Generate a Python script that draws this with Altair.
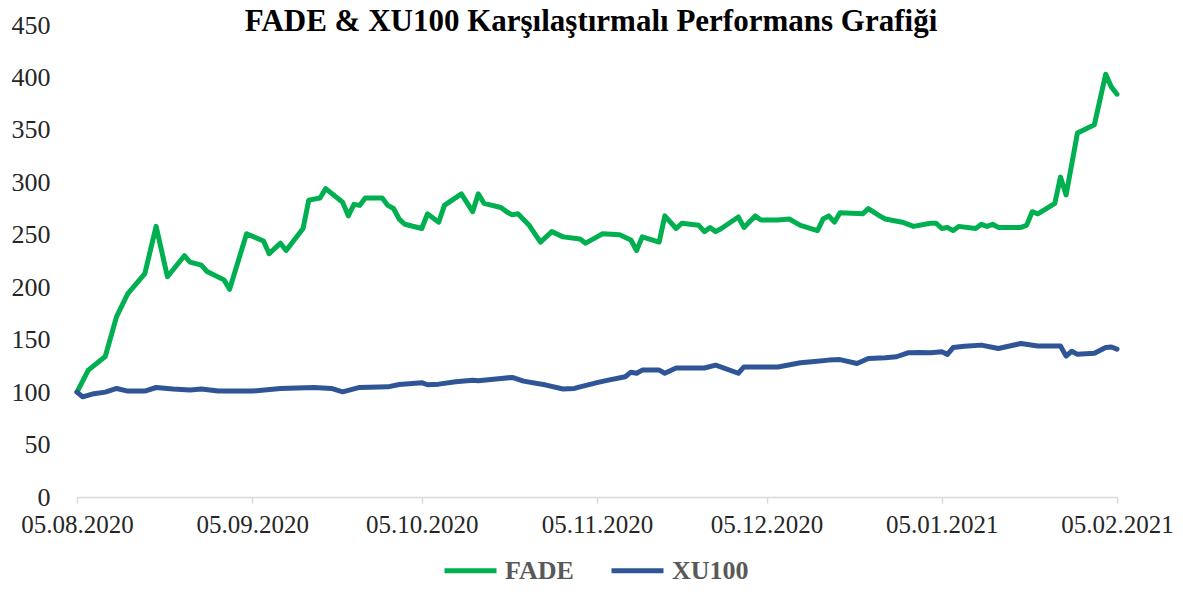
import altair as alt
import pandas as pd

fade_dates = [
    "2020-08-05", "2020-08-07", "2020-08-10", "2020-08-12", "2020-08-14", "2020-08-17",
    "2020-08-19", "2020-08-21", "2020-08-24", "2020-08-25", "2020-08-27", "2020-08-28",
    "2020-08-31", "2020-09-01", "2020-09-04", "2020-09-07", "2020-09-08", "2020-09-10",
    "2020-09-11", "2020-09-14", "2020-09-15", "2020-09-17", "2020-09-18", "2020-09-21",
    "2020-09-22", "2020-09-23", "2020-09-24", "2020-09-25", "2020-09-28", "2020-09-29",
    "2020-09-30", "2020-10-01", "2020-10-02", "2020-10-05", "2020-10-06", "2020-10-08",
    "2020-10-09", "2020-10-12", "2020-10-14", "2020-10-15", "2020-10-16", "2020-10-19",
    "2020-10-20", "2020-10-21", "2020-10-22", "2020-10-24", "2020-10-26", "2020-10-28",
    "2020-10-30", "2020-11-02", "2020-11-03", "2020-11-05", "2020-11-06", "2020-11-09",
    "2020-11-11", "2020-11-12", "2020-11-13", "2020-11-16", "2020-11-17", "2020-11-19",
    "2020-11-20", "2020-11-23", "2020-11-24", "2020-11-25", "2020-11-26", "2020-11-27",
    "2020-11-30", "2020-12-01", "2020-12-03", "2020-12-04", "2020-12-06", "2020-12-07",
    "2020-12-09", "2020-12-11", "2020-12-14", "2020-12-15", "2020-12-16", "2020-12-17",
    "2020-12-18", "2020-12-22", "2020-12-23", "2020-12-25", "2020-12-26", "2020-12-29",
    "2020-12-31", "2021-01-03", "2021-01-04", "2021-01-05", "2021-01-06", "2021-01-07",
    "2021-01-08", "2021-01-11", "2021-01-12", "2021-01-13", "2021-01-14", "2021-01-15",
    "2021-01-19", "2021-01-20", "2021-01-21", "2021-01-22", "2021-01-25", "2021-01-26",
    "2021-01-27", "2021-01-29", "2021-02-01", "2021-02-03", "2021-02-04", "2021-02-05",
]
fade_values = [
    100, 121, 134, 172, 194, 213,
    258, 210, 230, 224, 221, 215,
    207, 198, 251, 244, 232, 242,
    235, 256, 283, 285, 294, 281,
    268, 279, 278, 285, 285, 278,
    275, 265, 260, 256, 270, 262,
    278, 289, 272, 289, 280, 276,
    272, 269, 270, 259, 243, 253,
    248, 246, 242, 248, 251, 250,
    245, 235, 248, 243, 268, 256,
    261, 259, 253, 257, 253, 256,
    267, 257, 268, 264, 264, 264,
    265, 259, 254, 265, 268, 262,
    271, 270, 275, 268, 265, 262,
    258, 261, 261, 256, 257, 254,
    258, 256, 260, 258, 260, 257,
    257, 259, 272, 270, 280, 305,
    288, 347, 355, 403, 391, 384,
]

xu_dates = [
    "2020-08-05", "2020-08-06", "2020-08-08", "2020-08-10", "2020-08-12", "2020-08-14",
    "2020-08-17", "2020-08-19", "2020-08-22", "2020-08-25", "2020-08-27", "2020-08-30",
    "2020-09-05", "2020-09-10", "2020-09-16", "2020-09-19", "2020-09-21", "2020-09-24",
    "2020-09-29", "2020-10-01", "2020-10-05", "2020-10-06", "2020-10-08", "2020-10-11",
    "2020-10-14", "2020-10-15", "2020-10-19", "2020-10-21", "2020-10-23", "2020-10-27",
    "2020-10-30", "2020-11-01", "2020-11-02", "2020-11-05", "2020-11-07", "2020-11-10",
    "2020-11-11", "2020-11-12", "2020-11-13", "2020-11-16", "2020-11-17", "2020-11-19",
    "2020-11-24", "2020-11-26", "2020-11-30", "2020-12-01", "2020-12-06", "2020-12-07",
    "2020-12-11", "2020-12-13", "2020-12-16", "2020-12-18", "2020-12-21", "2020-12-23",
    "2020-12-26", "2020-12-28", "2020-12-30", "2021-01-01", "2021-01-03", "2021-01-05",
    "2021-01-06", "2021-01-07", "2021-01-09", "2021-01-12", "2021-01-15", "2021-01-19",
    "2021-01-22", "2021-01-26", "2021-01-27", "2021-01-28", "2021-01-29", "2021-02-01",
    "2021-02-03", "2021-02-04", "2021-02-05",
]
xu_values = [
    100, 95.5, 98.5, 100, 103.5, 101,
    101, 104.4, 103, 102, 103, 101,
    101, 103.5, 104.4, 103.5, 100.3, 104.5,
    105, 107.3, 109, 107, 107.6, 109.8,
    111.4, 110.8, 113, 114, 110.5, 106.7,
    103, 103.5, 105, 109, 111.4, 114.6,
    119, 118, 121, 121, 118, 123,
    123, 125.7, 118, 124, 124, 124,
    128, 129, 130.5, 131, 127.3, 132,
    132.7, 133.7, 137.5, 137.8, 137.5, 138.4,
    136, 142.5, 143.8, 144.8, 141.6, 146.3,
    144, 144, 134.3, 139, 136, 137,
    142.5, 143, 141,
]

series_names = ["FADE", "XU100"]
series_colors = ["#00B050", "#2F5597"]
tick_dates = [(2020, 8, 5), (2020, 9, 5), (2020, 10, 5), (2020, 11, 5),
              (2020, 12, 5), (2021, 1, 5), (2021, 2, 5)]
y_ticks = [0, 50, 100, 150, 200, 250, 300, 350, 400, 450]

df = pd.concat([
    pd.DataFrame({"date": fade_dates, "value": fade_values, "series": "FADE"}),
    pd.DataFrame({"date": xu_dates, "value": xu_values, "series": "XU100"}),
])

FONT = "Liberation Serif"

def dt(t):
    return alt.DateTime(year=t[0], month=t[1], date=t[2], utc=True)

chart = alt.Chart(df).mark_line(strokeWidth=5, strokeJoin="round", strokeCap="round").encode(
    x=alt.X("date:T",
            scale=alt.Scale(type="utc", domain=[dt(tick_dates[0]), dt(tick_dates[-1])]),
            axis=alt.Axis(values=[dt(t) for t in tick_dates], format="%d.%m.%Y",
                          title=None, grid=False, domainColor="#d9d9d9", domainWidth=1.5,
                          tickColor="#d9d9d9", tickWidth=1.5, tickSize=6,
                          labelFont=FONT, labelFontSize=25, labelColor="#262626",
                          labelPadding=9, labelAlign="center", labelOverlap=False,
                          labelFlush=False)),
    y=alt.Y("value:Q",
            scale=alt.Scale(domain=[0, 450], nice=False, zero=True),
            axis=alt.Axis(values=y_ticks, title=None, grid=False, domain=False, ticks=False,
                          labelFont=FONT, labelFontSize=26, labelColor="#262626",
                          labelPadding=27)),
    color=alt.Color("series:N",
                    scale=alt.Scale(domain=series_names, range=series_colors),
                    legend=alt.Legend(title=None, orient="none", direction="horizontal",
                                      legendX=365, legendY=517,
                                      symbolType="stroke", symbolSize=2704,
                                      symbolStrokeWidth=5,
                                      labelFont=FONT, labelFontSize=26,
                                      labelFontWeight="bold", labelColor="#595959",
                                      labelOffset=6, columnPadding=27, padding=0)),
).properties(
    width=1040,
    height=472,
    title=alt.TitleParams("FADE & XU100 Karşılaştırmalı Performans Grafiği",
                          font=FONT, fontSize=31, fontWeight="bold", color="#000000",
                          anchor="middle", frame="group", offset=-50, dx=-6,
                          baseline="alphabetic"),
    padding={"left": 69, "top": 17, "right": 58, "bottom": 87},
    autosize=alt.AutoSizeParams(type="none"),
).configure(background="white").configure_view(stroke=None)

chart.save("out.html", embed_options={"renderer": "svg", "actions": False})
